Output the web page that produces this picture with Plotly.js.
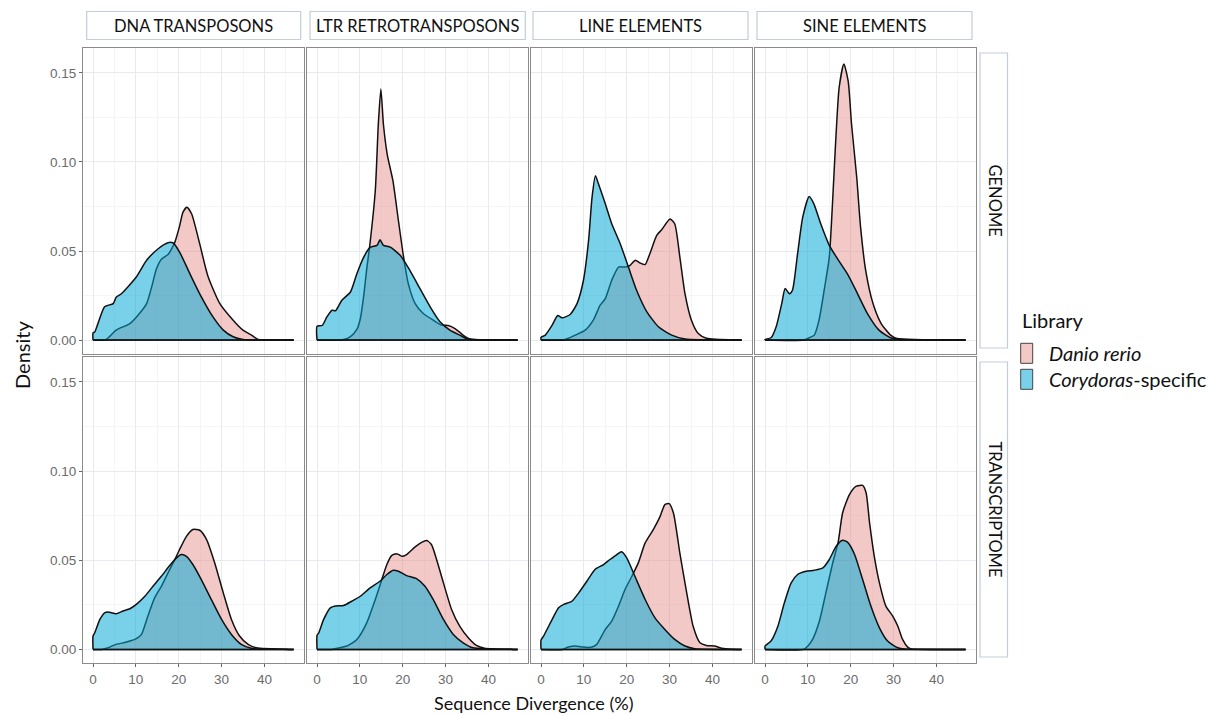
<!DOCTYPE html>
<html>
<head>
<meta charset="utf-8">
<script src="https://cdn.plot.ly/plotly-3.0.1.min.js"></script>
<style>
  html, body { margin: 0; padding: 0; background: #ffffff; }
  #chart { width: 1220px; height: 715px; }
</style>
</head>
<body>
<div id="chart"></div>
<script>
// Repeat classes (columns) and data sources (rows)
const repeatClasses = ["DNA TRANSPOSONS", "LTR RETROTRANSPOSONS", "LINE ELEMENTS", "SINE ELEMENTS"];
const sources = ["GENOME", "TRANSCRIPTOME"];
const libraries = ["Danio rerio", "Corydoras-specific"];

const xTicks = [0, 10, 20, 30, 40];
const yTicks = [0, 0.05, 0.10, 0.15];
const yTickText = ["0.00", "0.05", "0.10", "0.15"];
const divergenceMax = 46.8;

// ---- GENOME ----
const dnaGenomeDanioX = [0, 2.0, 3.1, 5.4, 8.6, 10.5, 12.5, 13.7, 14.8, 16.0, 17.5, 18.5, 19.1, 20.2, 21.0, 21.9, 23.0, 24.9, 26.8, 29.6, 32.7, 35.0, 37.0, 38.5];
const dnaGenomeDanioY = [0, 0, 0.0004, 0.0056, 0.0093, 0.014, 0.0205, 0.030, 0.040, 0.0455, 0.048, 0.052, 0.055, 0.064, 0.0718, 0.0746, 0.0709, 0.054, 0.036, 0.0205, 0.0112, 0.0056, 0.0028, 0.0004];
const dnaGenomeCoryX = [0, 0.4, 2.7, 4.7, 5.4, 6.6, 10.1, 12.5, 15.2, 17.5, 18.7, 20.2, 22.6, 24.9, 28.0, 30.4, 32.7, 35.0];
const dnaGenomeCoryY = [0.004, 0.0045, 0.0187, 0.0205, 0.024, 0.026, 0.0354, 0.0448, 0.0513, 0.0547, 0.0545, 0.0494, 0.0373, 0.026, 0.013, 0.0056, 0.0019, 0.0004];

const ltrGenomeDanioX = [0, 5.0, 6.2, 7.8, 9.3, 10.1, 10.9, 11.6, 12.3, 13.6, 14.3, 14.9, 15.5, 16.4, 17.7, 19.0, 20.2, 21.3, 22.9, 24.8, 27.1, 29.1, 30.6, 32.2, 34.1, 35.7];
const ltrGenomeDanioY = [0, 0, 0.0003, 0.002, 0.006, 0.012, 0.025, 0.040, 0.053, 0.084, 0.121, 0.141, 0.121, 0.104, 0.0896, 0.067, 0.0466, 0.0317, 0.0205, 0.0149, 0.0112, 0.0084, 0.0082, 0.0065, 0.0028, 0.0006];
const ltrGenomeCoryX = [0, 1.2, 2.3, 3.5, 4.3, 5.8, 7.8, 9.3, 10.9, 12.4, 14.0, 14.7, 15.5, 17.1, 19.4, 21.7, 24.0, 26.4, 28.7, 31.0, 33.3, 35.3];
const ltrGenomeCoryY = [0.0078, 0.0082, 0.013, 0.0168, 0.0165, 0.0224, 0.027, 0.0373, 0.0466, 0.052, 0.0532, 0.0563, 0.0532, 0.0522, 0.0476, 0.039, 0.029, 0.0187, 0.0103, 0.0056, 0.0028, 0.0006];

const lineGenomeDanioX = [0, 5.0, 6.4, 8.0, 10.3, 12.2, 13.8, 15.0, 16.5, 18.1, 19.6, 20.8, 22.0, 23.1, 24.3, 25.4, 27.0, 28.2, 30.1, 31.2, 32.4, 33.6, 35.1, 36.7, 38.6];
const lineGenomeDanioY = [0, 0, 0.001, 0.0028, 0.0056, 0.0112, 0.0196, 0.0233, 0.0336, 0.041, 0.041, 0.042, 0.0448, 0.0433, 0.0424, 0.0485, 0.0588, 0.0621, 0.068, 0.0653, 0.0466, 0.026, 0.0112, 0.0037, 0.001];
const lineGenomeCoryX = [0, 1.0, 2.6, 3.9, 4.9, 6.8, 8.4, 9.9, 11.1, 11.9, 12.7, 13.4, 15.0, 16.5, 18.5, 20.4, 22.3, 24.7, 27.4, 30.5, 33.6];
const lineGenomeCoryY = [0.0015, 0.0028, 0.0084, 0.0138, 0.0125, 0.0144, 0.0205, 0.0336, 0.056, 0.080, 0.0923, 0.0877, 0.0765, 0.0653, 0.054, 0.041, 0.028, 0.0159, 0.0075, 0.0028, 0.0006];

const sineGenomeDanioX = [0, 9.0, 10.3, 11.5, 12.6, 13.8, 15.0, 15.7, 16.5, 17.3, 18.4, 19.4, 20.2, 21.4, 22.3, 23.5, 25.2, 27.1, 29.3, 30.8];
const sineGenomeDanioY = [0, 0, 0.0013, 0.0028, 0.0112, 0.028, 0.0466, 0.0746, 0.112, 0.1418, 0.155, 0.1455, 0.121, 0.0914, 0.0634, 0.039, 0.0205, 0.0093, 0.0028, 0.0009];
const sineGenomeCoryX = [0, 1.4, 2.6, 3.9, 4.7, 5.7, 6.4, 7.6, 8.8, 10.3, 11.4, 13.0, 15.0, 16.9, 19.2, 21.6, 23.9, 26.6, 29.3, 31.6];
const sineGenomeCoryY = [0.0004, 0.0013, 0.0075, 0.0205, 0.029, 0.026, 0.028, 0.0485, 0.069, 0.0806, 0.0765, 0.0653, 0.0532, 0.0457, 0.0373, 0.026, 0.0149, 0.0056, 0.0013, 0.0004];

// ---- TRANSCRIPTOME ----
const dnaTransDanioX = [0, 2.0, 3.1, 5.4, 7.8, 10.1, 11.3, 12.8, 14.4, 15.95, 17.5, 19.1, 20.2, 21.8, 23.3, 24.9, 26.5, 28.4, 30.4, 32.3, 34.2, 36.2, 38.1];
const dnaTransDanioY = [0, 0, 0.0006, 0.0028, 0.0041, 0.006, 0.0084, 0.0187, 0.029, 0.0354, 0.0429, 0.0504, 0.056, 0.0634, 0.0672, 0.0668, 0.0616, 0.0485, 0.0317, 0.0168, 0.0075, 0.0028, 0.0009];
const dnaTransCoryX = [0, 0.4, 1.6, 2.7, 3.5, 5.4, 7.0, 8.6, 10.1, 12.1, 14.0, 15.95, 17.9, 19.5, 20.6, 21.8, 23.3, 25.3, 27.6, 30.0, 32.3, 34.6, 36.9];
const dnaTransCoryY = [0.0075, 0.0093, 0.0168, 0.0205, 0.021, 0.020, 0.0215, 0.0228, 0.0252, 0.0298, 0.0354, 0.041, 0.047, 0.0513, 0.0532, 0.0522, 0.0476, 0.039, 0.028, 0.0168, 0.0084, 0.0028, 0.0006];

const ltrTransDanioX = [0, 3.5, 4.65, 7.0, 9.3, 11.6, 13.6, 15.1, 16.3, 17.4, 18.6, 19.8, 20.9, 22.9, 24.4, 25.6, 26.7, 27.9, 29.5, 31.4, 33.3, 35.3, 37.2, 39.1];
const ltrTransDanioY = [0, 0, 0.0006, 0.0019, 0.0056, 0.0149, 0.028, 0.039, 0.0476, 0.0526, 0.0537, 0.0522, 0.0532, 0.0575, 0.060, 0.061, 0.0588, 0.0504, 0.0373, 0.0224, 0.013, 0.0065, 0.0022, 0.0006];
const ltrTransCoryX = [0, 0.4, 1.55, 3.1, 4.3, 6.2, 8.1, 10.1, 12.4, 14.7, 16.3, 17.8, 19.0, 20.9, 23.3, 25.2, 27.1, 29.5, 31.8, 34.1, 36.4];
const ltrTransCoryY = [0.0078, 0.0093, 0.0168, 0.0233, 0.0243, 0.0246, 0.027, 0.0298, 0.0345, 0.0382, 0.042, 0.0444, 0.0438, 0.0414, 0.0396, 0.0354, 0.028, 0.0168, 0.0084, 0.0037, 0.0009];

const lineTransDanioX = [0, 5.0, 6.4, 8.0, 9.5, 11.9, 13.0, 15.0, 16.5, 18.1, 19.6, 21.2, 22.7, 24.3, 26.2, 27.8, 28.9, 29.9, 30.9, 32.4, 34.0, 35.5, 37.1, 38.6, 40.5, 42.1];
const lineTransDanioY = [0, 0, 0.0013, 0.0019, 0.0013, 0.0013, 0.0028, 0.0112, 0.0159, 0.0243, 0.0336, 0.041, 0.0485, 0.0597, 0.0672, 0.0746, 0.0812, 0.0817, 0.0765, 0.054, 0.0317, 0.013, 0.0037, 0.0022, 0.0019, 0.0007];
const lineTransCoryX = [0, 0.6, 2.6, 4.1, 5.3, 7.2, 8.8, 10.7, 12.6, 14.6, 16.1, 17.7, 18.8, 20.0, 21.9, 24.3, 26.6, 28.9, 31.2, 33.6, 35.9];
const lineTransCoryY = [0.0052, 0.0075, 0.0168, 0.0233, 0.0252, 0.027, 0.0317, 0.0382, 0.0448, 0.0476, 0.0504, 0.0532, 0.0547, 0.0513, 0.041, 0.028, 0.0177, 0.0112, 0.0056, 0.0019, 0.0004];

const sineTransDanioX = [0, 9.0, 10.0, 11.1, 12.7, 14.2, 15.8, 17.1, 18.1, 19.7, 21.2, 22.8, 23.6, 24.4, 25.5, 26.7, 28.2, 29.8, 31.0, 32.1, 33.3, 34.1];
const sineTransDanioY = [0, 0, 0.0019, 0.0056, 0.0159, 0.0317, 0.0485, 0.0606, 0.0765, 0.0868, 0.0914, 0.092, 0.0877, 0.0709, 0.0522, 0.0373, 0.0243, 0.0187, 0.013, 0.0056, 0.0013, 0.0003];
const sineTransCoryX = [0, 1.4, 3.0, 4.5, 6.1, 7.6, 9.6, 11.5, 13.5, 15.0, 16.6, 18.1, 19.3, 20.9, 22.8, 24.7, 26.7, 28.6, 31.0, 32.6];
const sineTransCoryY = [0.0019, 0.0047, 0.013, 0.026, 0.0373, 0.042, 0.0438, 0.0444, 0.0457, 0.0504, 0.0578, 0.0612, 0.060, 0.0532, 0.039, 0.0243, 0.0121, 0.0047, 0.0009, 0.0002];

// Panel contents in row-major order: [danioX, danioY, coryX, coryY]
const panels = [
  [dnaGenomeDanioX, dnaGenomeDanioY, dnaGenomeCoryX, dnaGenomeCoryY],
  [ltrGenomeDanioX, ltrGenomeDanioY, ltrGenomeCoryX, ltrGenomeCoryY],
  [lineGenomeDanioX, lineGenomeDanioY, lineGenomeCoryX, lineGenomeCoryY],
  [sineGenomeDanioX, sineGenomeDanioY, sineGenomeCoryX, sineGenomeCoryY],
  [dnaTransDanioX, dnaTransDanioY, dnaTransCoryX, dnaTransCoryY],
  [ltrTransDanioX, ltrTransDanioY, ltrTransCoryX, ltrTransCoryY],
  [lineTransDanioX, lineTransDanioY, lineTransCoryX, lineTransCoryY],
  [sineTransDanioX, sineTransDanioY, sineTransCoryX, sineTransCoryY]
];

const fillDanio = "rgba(225,120,115,0.40)";
const fillCory = "rgba(0,168,212,0.53)";

// Density curve: rises from the baseline at x=0 and runs out to the end of the range
function curve(xs, ys) {
  const px = [], py = [];
  if (ys[0] > 0) { px.push(xs[0]); py.push(0); }
  for (let i = 0; i < xs.length; i++) { px.push(xs[i]); py.push(ys[i]); }
  px.push(divergenceMax - 1); py.push(0);
  px.push(divergenceMax); py.push(0);
  return [px, py];
}

// Figure geometry in pixels
const W = 1220, H = 715;
const colPx = [[83, 303.5], [307, 527.5], [531, 751.5], [755, 975.5]];
const rowPx = [[48.3, 354], [357.3, 663.3]];
const fx = p => p / W;
const fy = p => 1 - p / H;

const traces = [];
const layout = {
  width: W, height: H,
  margin: {l: 0, r: 0, t: 0, b: 0},
  paper_bgcolor: "#ffffff",
  plot_bgcolor: "#ffffff",
  showlegend: false,
  font: {family: "Liberation Sans, Arial, sans-serif", color: "#000"},
  shapes: [],
  annotations: []
};

const curveLine = {color: "#111", width: 1.5, shape: "spline", smoothing: 0.6};

panels.forEach((p, i) => {
  const r = Math.floor(i / 4), c = i % 4;
  const k = i + 1;
  const xa = k === 1 ? "x" : "x" + k;
  const ya = k === 1 ? "y" : "y" + k;
  const [dx, dy] = curve(p[0], p[1]);
  const [cx, cy] = curve(p[2], p[3]);
  traces.push({
    type: "scatter", mode: "lines", x: dx, y: dy, xaxis: xa, yaxis: ya,
    name: libraries[0], fill: "tozeroy", fillcolor: fillDanio,
    line: curveLine, hoverinfo: "skip"
  });
  // baseline of the Danio density
  traces.push({
    type: "scatter", mode: "lines", x: [dx[0], divergenceMax], y: [0, 0], xaxis: xa, yaxis: ya,
    line: {color: "#111", width: 1.5}, hoverinfo: "skip"
  });
  traces.push({
    type: "scatter", mode: "lines", x: cx, y: cy, xaxis: xa, yaxis: ya,
    name: libraries[1], fill: "tozeroy", fillcolor: fillCory,
    line: curveLine, hoverinfo: "skip"
  });
  traces.push({
    type: "scatter", mode: "lines", x: [cx[0], divergenceMax], y: [0, 0], xaxis: xa, yaxis: ya,
    line: {color: "#111", width: 1.5}, hoverinfo: "skip"
  });
  const xKey = k === 1 ? "xaxis" : "xaxis" + k;
  const yKey = k === 1 ? "yaxis" : "yaxis" + k;
  layout[xKey] = {
    domain: [fx(colPx[c][0]), fx(colPx[c][1])],
    anchor: ya,
    range: [-2.34, 49.12],
    tickmode: "array", tickvals: xTicks, ticktext: xTicks.map(String),
    showticklabels: r === 1,
    ticks: r === 1 ? "outside" : "", ticklen: 3, tickcolor: "#666", tickwidth: 1,
    tickfont: {family: "Liberation Sans, Arial, sans-serif", size: 13.5, color: "#6b6b6b"},
    showgrid: true, gridcolor: "#E9EAF0", gridwidth: 1,
    minor: {tickmode: "array", tickvals: [5, 15, 25, 35, 45], showgrid: true, gridcolor: "#F2F3F6", gridwidth: 0.8, ticks: ""},
    zeroline: false,
    showline: true, mirror: true, linecolor: "#8a8a8a", linewidth: 1,
    fixedrange: true
  };
  layout[yKey] = {
    domain: [fy(rowPx[r][1]), fy(rowPx[r][0])],
    anchor: xa,
    range: [-0.0078, 0.1638],
    tickmode: "array", tickvals: yTicks, ticktext: yTickText,
    showticklabels: c === 0,
    ticks: c === 0 ? "outside" : "", ticklen: 3, tickcolor: "#666", tickwidth: 1,
    tickfont: {family: "Liberation Sans, Arial, sans-serif", size: 13.5, color: "#6b6b6b"},
    showgrid: true, gridcolor: "#E9EAF0", gridwidth: 1,
    minor: {tickmode: "array", tickvals: [0.025, 0.075, 0.125], showgrid: true, gridcolor: "#F2F3F6", gridwidth: 0.8, ticks: ""},
    zeroline: false,
    showline: true, mirror: true, linecolor: "#8a8a8a", linewidth: 1,
    fixedrange: true
  };
});

// Facet strips along the top
const stripPx = [[86.7, 300.7], [310, 525.3], [533, 748], [757, 972]];
const stripFont = {family: "Lato, Noto Sans, sans-serif", size: 16.5, color: "#111"};
repeatClasses.forEach((label, c) => {
  layout.shapes.push({
    type: "rect", xref: "paper", yref: "paper",
    x0: fx(stripPx[c][0]), x1: fx(stripPx[c][1]), y0: fy(39.5), y1: fy(11.5),
    line: {color: "#C3CCDA", width: 1.2}, fillcolor: "#ffffff"
  });
  layout.annotations.push({
    xref: "paper", yref: "paper", x: fx((stripPx[c][0] + stripPx[c][1]) / 2), y: fy(25.5),
    text: label, showarrow: false, xanchor: "center", yanchor: "middle", font: stripFont
  });
});

// Facet strips on the right
const sideStripPx = [[53, 348], [362, 657]];
sources.forEach((label, r) => {
  layout.shapes.push({
    type: "rect", xref: "paper", yref: "paper",
    x0: fx(980), x1: fx(1007.5), y0: fy(sideStripPx[r][1]), y1: fy(sideStripPx[r][0]),
    line: {color: "#C3CCDA", width: 1.2}, fillcolor: "#ffffff"
  });
  layout.annotations.push({
    xref: "paper", yref: "paper", x: fx(994), y: fy((sideStripPx[r][0] + sideStripPx[r][1]) / 2),
    text: label, showarrow: false, textangle: 90, xanchor: "center", yanchor: "middle", font: stripFont
  });
});

// Axis titles
layout.annotations.push({
  xref: "paper", yref: "paper", x: fx(22), y: fy(355),
  text: "Density", showarrow: false, textangle: -90, xanchor: "center", yanchor: "middle",
  font: {family: "Lato, Noto Sans, sans-serif", size: 20, color: "#111"}
});
layout.annotations.push({
  xref: "paper", yref: "paper", x: fx(534), y: fy(703),
  text: "Sequence Divergence (%)", showarrow: false, xanchor: "center", yanchor: "middle",
  font: {family: "Lato, Noto Sans, sans-serif", size: 18, color: "#111"}
});

// Legend
const legendFont = {family: "Lato, Noto Sans, sans-serif", size: 20, color: "#111"};
layout.annotations.push({
  xref: "paper", yref: "paper", x: fx(1020), y: fy(320),
  text: "Library", showarrow: false, xanchor: "left", yanchor: "middle", font: legendFont
});
const legendRows = [
  {y0: 343.3, y1: 363.3, fill: fillDanio, text: "<i>Danio rerio</i>"},
  {y0: 369.3, y1: 389.3, fill: fillCory, text: "<i>Corydoras</i>-specific"}
];
legendRows.forEach(row => {
  layout.shapes.push({
    type: "rect", xref: "paper", yref: "paper",
    x0: fx(1020.7), x1: fx(1032.7), y0: fy(row.y1), y1: fy(row.y0),
    line: {color: "#444", width: 1}, fillcolor: row.fill
  });
  layout.annotations.push({
    xref: "paper", yref: "paper", x: fx(1047), y: fy((row.y0 + row.y1) / 2),
    text: row.text, showarrow: false, xanchor: "left", yanchor: "middle", font: legendFont
  });
});

Plotly.newPlot("chart", traces, layout, {displayModeBar: false, staticPlot: true});
</script>
</body>
</html>
